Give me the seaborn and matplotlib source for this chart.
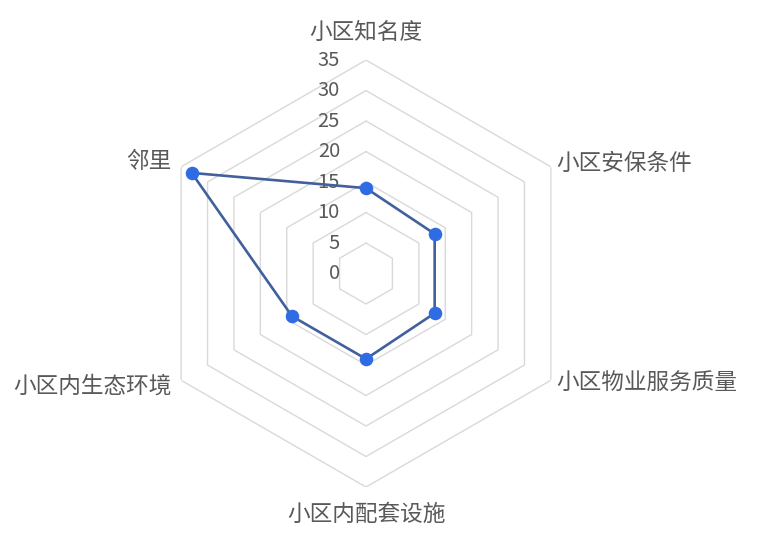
import numpy as np
import pandas as pd
import matplotlib
matplotlib.use('Agg')
import matplotlib.pyplot as plt
import matplotlib.transforms as mtrans
import seaborn as sns

# ========================= DATEN =========================
categories = ['小区知名度', '小区安保条件', '小区物业服务质量', '小区内配套设施', '小区内生态环境', '邻里']
scores = [14, 13, 13, 14, 14, 33]
ring_ticks = [0, 5, 10, 15, 20, 25, 30, 35]

sns.set_style('white')
plt.rcParams['font.family'] = ['Noto Sans CJK SC', 'DejaVu Sans']

TEXT = '#595959'
GRID = '#D9D9D9'
LINE = '#41609C'
DOT = '#2F6BE3'

n = len(categories)
theta = np.linspace(0, 2 * np.pi, n, endpoint=False)

# geschlossener Linienzug: erster Punkt nochmal am Ende
df = pd.DataFrame({'theta': np.append(theta, theta[0]),
                   'score': scores + scores[:1]})

fig = plt.figure(figsize=(7.71, 5.40), dpi=100)
ax = fig.add_axes([0.1978, 0.0981, 0.5538, 0.7907], projection='polar')
ax.set_theta_zero_location('N')
ax.set_theta_direction(-1)
ax.set_ylim(0, 35)
ax.grid(False)
ax.spines['polar'].set_visible(False)
ax.set_xticks([])
ax.set_yticks([])

# sechseckige Gitterlinien
for r in ring_ticks[1:]:
    ax.plot(np.append(theta, theta[0]), [r] * (n + 1), color=GRID, lw=1.0, zorder=1)

# Beschriftung der Ringe (links neben der oberen Achse)
off = mtrans.offset_copy(ax.transData, fig=fig, x=-26, y=0, units='dots')
for r in ring_ticks:
    ax.text(0, r, str(r), transform=off, ha='right', va='center',
            fontsize=14.5, color=TEXT)

# Datenlinie + Punkte (estimator=None, sonst wird theta=0 zusammengefasst)
sns.lineplot(data=df, x='theta', y='score', sort=False, estimator=None, ax=ax,
             color=LINE, lw=1.9, zorder=3)
sns.scatterplot(data=df.iloc[:-1], x='theta', y='score', ax=ax,
                color=DOT, s=95, edgecolor=DOT, linewidth=0, zorder=4)
ax.set_xlabel('')
ax.set_ylabel('')

# Kategorien
for t, name in zip(theta, categories):
    deg = np.degrees(t)
    if np.isclose(deg, 0) or np.isclose(deg, 180):
        ax.text(t, 39.5, name, ha='center', va='center', fontsize=16.3, color=TEXT)
    elif deg < 180:
        ax.text(t, 36, name, ha='left', va='center', fontsize=16.3, color=TEXT)
    else:
        ax.text(t, 36.8, name, ha='right', va='center', fontsize=16.3, color=TEXT)

fig.savefig('out.png', dpi=100, facecolor='white')
